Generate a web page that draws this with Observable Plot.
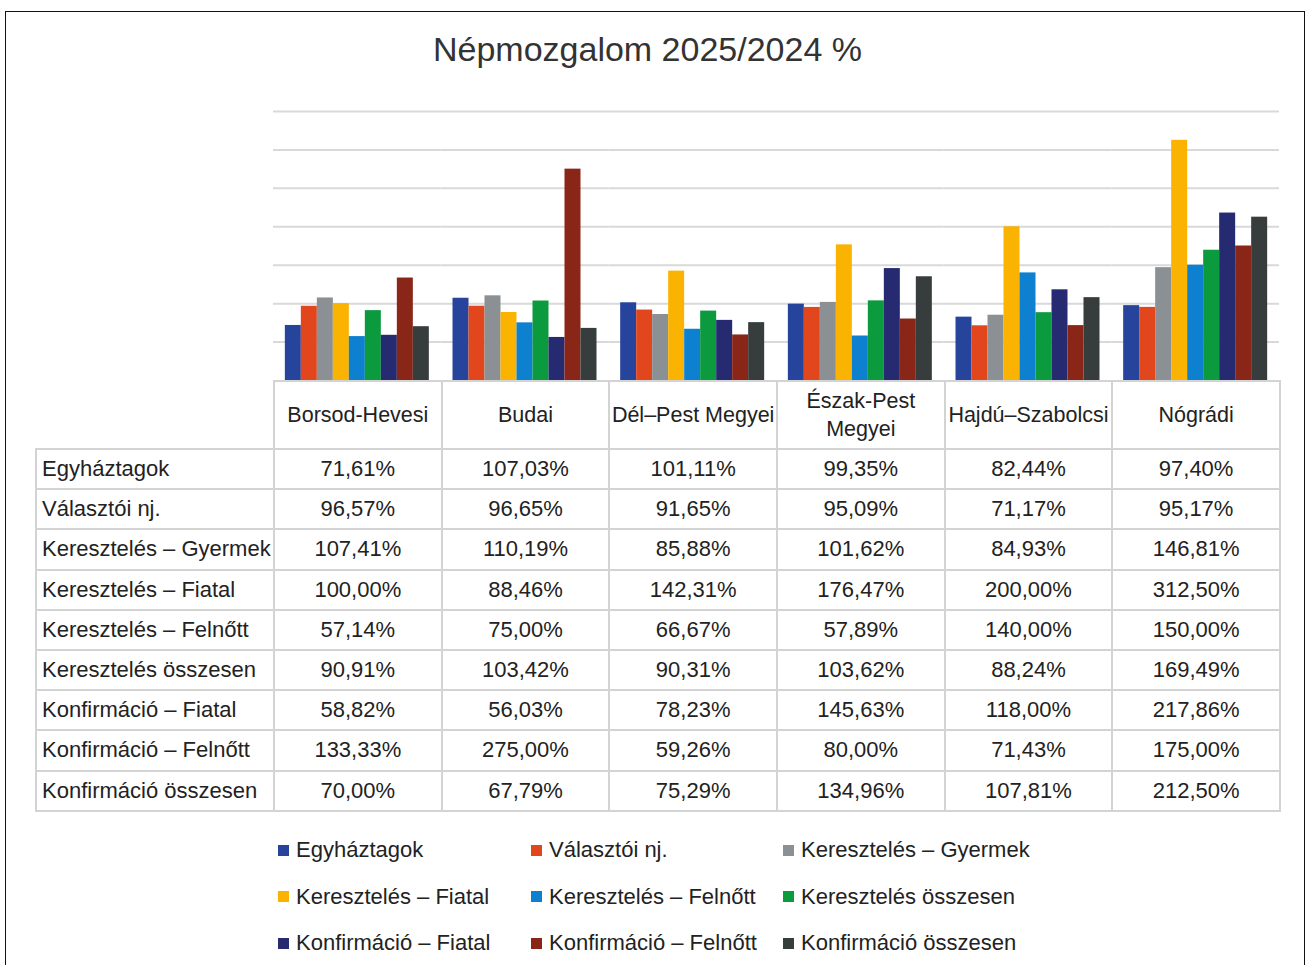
<!DOCTYPE html>
<html>
<head>
<meta charset="utf-8">
<script src="https://cdn.jsdelivr.net/npm/d3@7"></script>
<script src="https://cdn.jsdelivr.net/npm/@observablehq/plot@0.6"></script>
<style>
  html, body { margin: 0; padding: 0; background: #fff; }
  body { width: 1306px; height: 965px; position: relative; overflow: hidden; font-family: "Liberation Sans", Arial, sans-serif; }
  #frame { position: absolute; left: 5px; top: 11px; width: 1298px; height: 1000px; border: 1.5px solid #111; border-bottom: none; }
  #title { position: absolute; left: 0; width: 1295px; top: 30px; text-align: center; font-size: 34px; color: #333; }
  #chart { position: absolute; left: 0; top: 0; }
  #tbl { position: absolute; left: 35px; top: 380px; border-collapse: collapse; table-layout: fixed; font-size: 22px; color: #222; }
  #tbl td { border: 2px solid #d3d3d3; padding: 0; text-align: center; vertical-align: middle; white-space: nowrap; }
  #tbl tr.head td { height: 66px; font-size: 21.5px; white-space: normal; line-height: 28px; }
  #tbl tr.head td.blank { border-top: none; border-left: none; }
  #tbl tr.data td { height: 38.2px; }
  #tbl td.lab { text-align: left; padding-left: 5px; }
  #legend { position: absolute; left: 278px; top: 832px; display: grid; grid-template-columns: 253px 252px 260px; grid-auto-rows: 46.5px; font-size: 22px; color: #222; }
  #legend .it { display: flex; align-items: center; height: 36px; }
  #legend .sw { width: 11px; height: 11px; margin-right: 7px; flex: none; }
</style>
</head>
<body>
<div id="frame"></div>
<div id="title">Népmozgalom 2025/2024 %</div>
<div id="chart"></div>
<table id="tbl"></table>
<div id="legend"></div>
<script>
const regions = ["Borsod-Hevesi", "Budai", "Dél–Pest Megyei", "Észak-Pest Megyei", "Hajdú–Szabolcsi", "Nógrádi"];
const series = ["Egyháztagok", "Választói nj.", "Keresztelés – Gyermek", "Keresztelés – Fiatal", "Keresztelés – Felnőtt", "Keresztelés összesen", "Konfirmáció – Fiatal", "Konfirmáció – Felnőtt", "Konfirmáció összesen"];
const colors = ["#27449c", "#e2461d", "#8b9094", "#f9b300", "#0d80cf", "#0c9a3e", "#262a70", "#8a2617", "#373c3d"];

const egyhaztagok = [71.61, 107.03, 101.11, 99.35, 82.44, 97.40];
const valasztoi   = [96.57, 96.65, 91.65, 95.09, 71.17, 95.17];
const kerGyermek  = [107.41, 110.19, 85.88, 101.62, 84.93, 146.81];
const kerFiatal   = [100.00, 88.46, 142.31, 176.47, 200.00, 312.50];
const kerFelnott  = [57.14, 75.00, 66.67, 57.89, 140.00, 150.00];
const kerOssz     = [90.91, 103.42, 90.31, 103.62, 88.24, 169.49];
const konfFiatal  = [58.82, 56.03, 78.23, 145.63, 118.00, 217.86];
const konfFelnott = [133.33, 275.00, 59.26, 80.00, 71.43, 175.00];
const konfOssz    = [70.00, 67.79, 75.29, 134.96, 107.81, 212.50];
const gridTicks = [50, 100, 150, 200, 250, 300, 350];

const seriesValues = [egyhaztagok, valasztoi, kerGyermek, kerFiatal, kerFelnott, kerOssz, konfFiatal, konfFelnott, konfOssz];
const rows = [];
series.forEach((s, i) => regions.forEach((r, j) => rows.push({series: s, region: r, value: seriesValues[i][j]})));

const chart = Plot.plot({
  width: 1306,
  height: 381,
  marginLeft: 273,
  marginRight: 27,
  marginTop: 111,
  marginBottom: 1,
  fx: {domain: regions, padding: 0, axis: null, round: false},
  x: {domain: series, paddingInner: 0, paddingOuter: 0.74, axis: null, round: false},
  y: {domain: [0, 350], axis: null},
  color: {domain: series, range: colors},
  marks: [
    Plot.ruleY(gridTicks, {stroke: "#d9d9d9", strokeWidth: 2}),
    Plot.barY(rows, {fx: "region", x: "series", y: "value", fill: "series"})
  ]
});
document.getElementById("chart").appendChild(chart);

// Data table
const fmt = v => v.toFixed(2).replace(".", ",") + "%";
const tbl = document.getElementById("tbl");
const cg = document.createElement("colgroup");
[238, ...regions.map(() => 167.67)].forEach(w => { const c = document.createElement("col"); c.style.width = w + "px"; cg.appendChild(c); });
tbl.appendChild(cg);
const head = document.createElement("tr"); head.className = "head";
const blank = document.createElement("td"); blank.className = "blank"; head.appendChild(blank);
regions.forEach(r => { const td = document.createElement("td"); td.textContent = r; head.appendChild(td); });
tbl.appendChild(head);
series.forEach((s, i) => {
  const tr = document.createElement("tr"); tr.className = "data";
  const lab = document.createElement("td"); lab.className = "lab"; lab.textContent = s; tr.appendChild(lab);
  seriesValues[i].forEach(v => { const td = document.createElement("td"); td.textContent = fmt(v); tr.appendChild(td); });
  tbl.appendChild(tr);
});

// Legend
const leg = document.getElementById("legend");
series.forEach((s, i) => {
  const it = document.createElement("div"); it.className = "it";
  const sw = document.createElement("span"); sw.className = "sw"; sw.style.background = colors[i];
  const t = document.createElement("span"); t.textContent = s;
  it.appendChild(sw); it.appendChild(t); leg.appendChild(it);
});
</script>
</body>
</html>
